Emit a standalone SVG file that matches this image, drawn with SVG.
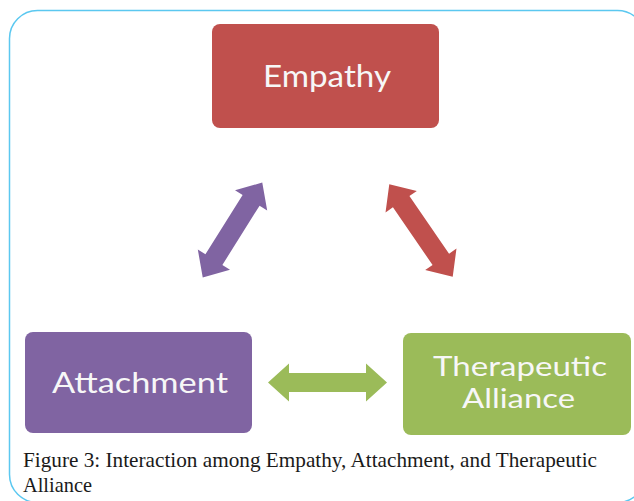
<svg xmlns="http://www.w3.org/2000/svg" width="634" height="501" viewBox="0 0 634 501">
  <style>
    .frame { fill: #ffffff; stroke: #5BC8F0; stroke-width: 1.5; }
    .label { font-family: Lato, "Open Sans", "DejaVu Sans", sans-serif; fill: #F7F7F7; text-anchor: middle; }
    .caption { font-family: "Liberation Serif", "DejaVu Serif", serif; font-size: 21px; fill: #1a1a1a; }
  </style>
  <defs>
    <!-- two-headed block arrows, drawn horizontally around the origin -->
    <path id="arrowLong" d="M -59.5,0 L -38.5,-19 L -38.5,-9.5 L 38.5,-9.5 L 38.5,-19 L 59.5,0 L 38.5,19 L 38.5,9.5 L -38.5,9.5 L -38.5,19 Z"/>
    <path id="arrowDiag" d="M -56,0 L -35,-19 L -35,-10 L 35,-10 L 35,-19 L 56,0 L 35,19 L 35,10 L -35,10 L -35,19 Z"/>
  </defs>

  <rect class="frame" x="9.5" y="10.5" width="636" height="492" rx="28" ry="28"/>

  <g id="empathy">
    <rect x="212" y="24" width="227" height="104" rx="8" ry="8" fill="#C0504D"/>
    <text class="label" x="327" y="87" font-size="31" textLength="128" lengthAdjust="spacingAndGlyphs">Empathy</text>
  </g>

  <g id="attachment">
    <rect x="25" y="332" width="227" height="101" rx="8" ry="8" fill="#8064A2"/>
    <text class="label" x="140" y="393" font-size="29" textLength="176" lengthAdjust="spacingAndGlyphs">Attachment</text>
  </g>

  <g id="therapeutic-alliance">
    <rect x="403" y="333" width="228" height="102" rx="8" ry="8" fill="#9BBB59"/>
    <text class="label" x="520" y="376" font-size="27" textLength="174" lengthAdjust="spacingAndGlyphs">Therapeutic</text>
    <text class="label" x="518.5" y="408" font-size="27" textLength="113" lengthAdjust="spacingAndGlyphs">Alliance</text>
  </g>

  <g id="connectors">
    <use href="#arrowDiag" fill="#8064A2" transform="translate(232.5 230) rotate(-57.9)"/>
    <use href="#arrowDiag" fill="#C0504D" transform="translate(421 230.5) rotate(55.5)"/>
    <use href="#arrowLong" fill="#9BBB59" transform="translate(327.5 382.5)"/>
  </g>

  <g id="caption">
    <text class="caption" x="23" y="467" textLength="574" lengthAdjust="spacingAndGlyphs">Figure 3: Interaction among Empathy, Attachment, and Therapeutic</text>
    <text class="caption" x="23" y="492" textLength="69" lengthAdjust="spacingAndGlyphs">Alliance</text>
  </g>
</svg>
